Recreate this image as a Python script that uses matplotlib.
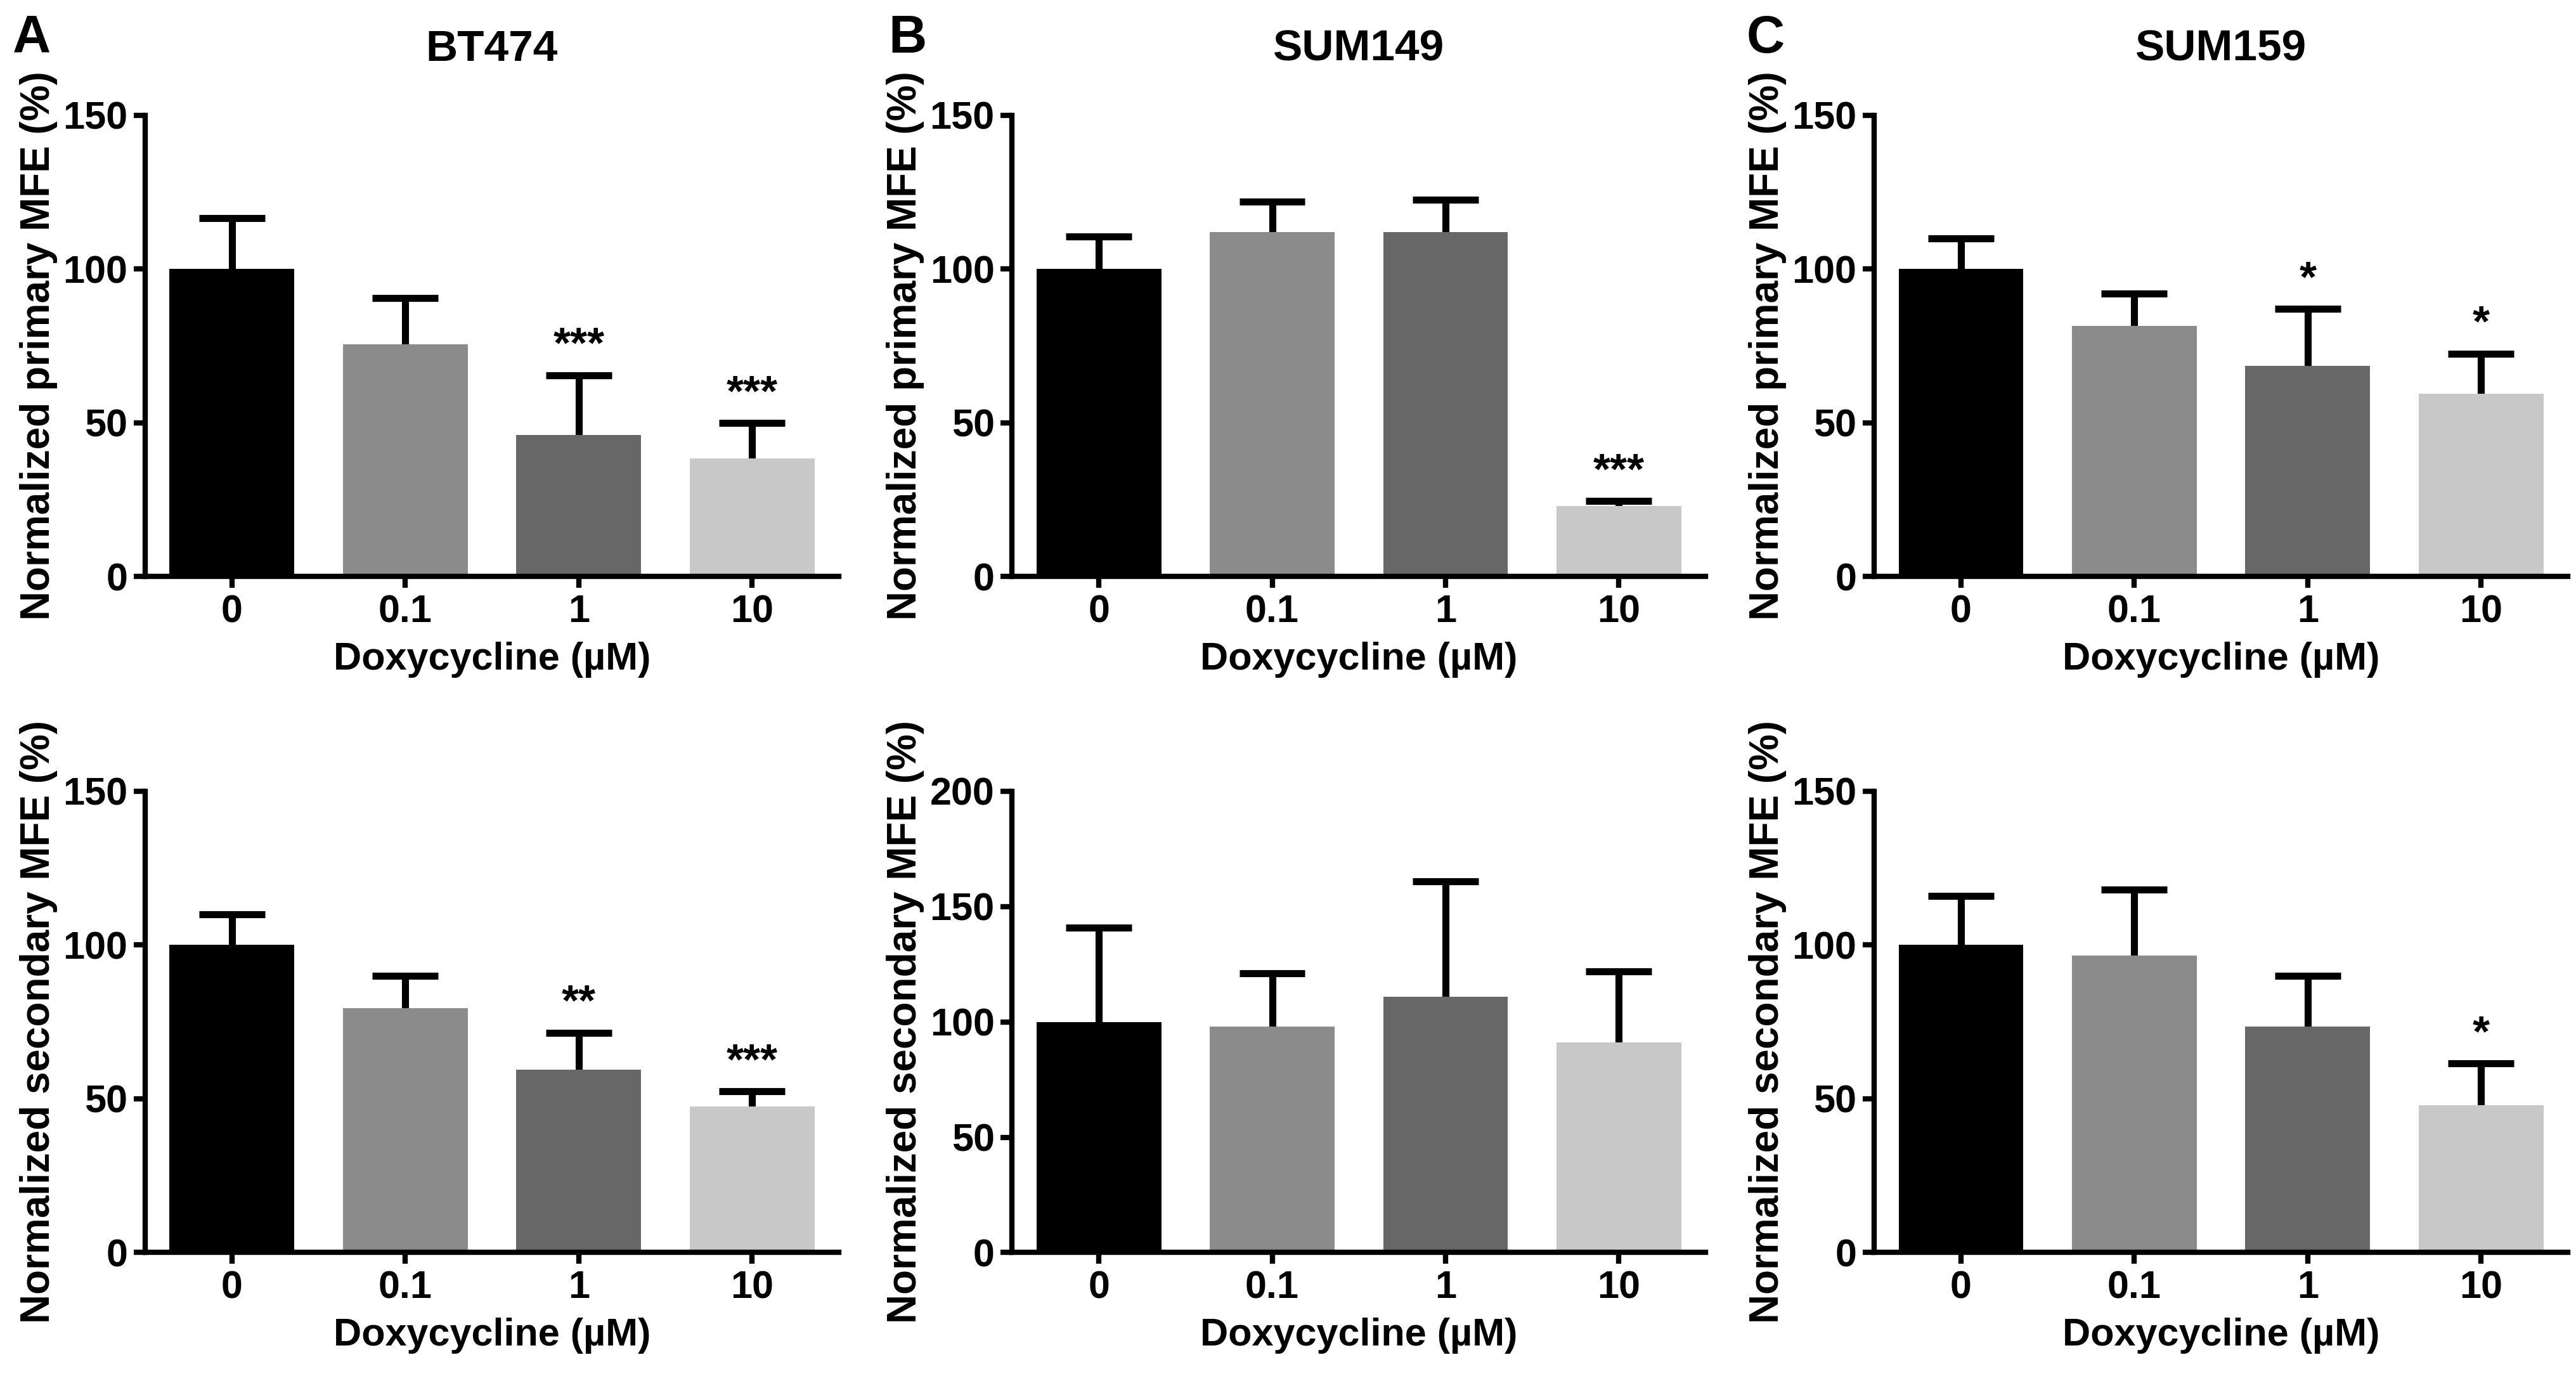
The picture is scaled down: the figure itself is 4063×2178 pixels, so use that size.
import matplotlib
matplotlib.use("Agg")
import matplotlib.pyplot as plt
import numpy as np

plt.rcParams['font.family'] = ['Liberation Sans', 'DejaVu Sans']
plt.rcParams['font.weight'] = 'bold'

doses = ['0', '0.1', '1', '10']
bar_colors = ['#000000', '#8b8b8b', '#676767', '#c8c8c8']
cell_lines = ['BT474', 'SUM149', 'SUM159']
panel_letters = ['A', 'B', 'C']

# primary MFE (top row)
bt474_primary = [100, 75.5, 46, 38.5]
bt474_primary_err = [16.5, 15, 19.5, 11.5]
bt474_primary_sig = ['', '', '***', '***']

sum149_primary = [100, 112, 112, 23]
sum149_primary_err = [10.5, 10, 10.5, 1.5]
sum149_primary_sig = ['', '', '', '***']

sum159_primary = [100, 81.5, 68.5, 59.5]
sum159_primary_err = [10, 10.5, 18.5, 13]
sum159_primary_sig = ['', '', '*', '*']

# secondary MFE (bottom row)
bt474_secondary = [100, 79.5, 59.5, 47.5]
bt474_secondary_err = [10, 10.5, 12, 5]
bt474_secondary_sig = ['', '', '**', '***']

sum149_secondary = [100, 98, 111, 91]
sum149_secondary_err = [41, 23, 50, 31]
sum149_secondary_sig = ['', '', '', '']

sum159_secondary = [100, 96.5, 73.5, 48]
sum159_secondary_err = [16, 21.5, 16.5, 13.5]
sum159_secondary_sig = ['', '', '', '*']

top_rows = [(bt474_primary, bt474_primary_err, bt474_primary_sig, 150),
            (sum149_primary, sum149_primary_err, sum149_primary_sig, 150),
            (sum159_primary, sum159_primary_err, sum159_primary_sig, 150)]
bottom_rows = [(bt474_secondary, bt474_secondary_err, bt474_secondary_sig, 150),
               (sum149_secondary, sum149_secondary_err, sum149_secondary_sig, 200),
               (sum159_secondary, sum159_secondary_err, sum159_secondary_sig, 150)]

fig = plt.figure(figsize=(40.63, 21.78), dpi=100)

lefts = [0.0564, 0.3929, 0.7276]
width = 0.2692
bottoms = [0.5825, 0.093]
height = 0.334


def draw_panel(ax, vals, errs, sig, ymax, ylabel):
    x = np.arange(len(doses))
    vals = np.array(vals, dtype=float)
    tops = vals + np.array(errs, dtype=float)
    ax.bar(x, vals, width=0.72, color=bar_colors, zorder=2)
    # upper-only error bars, no cap on the bar side
    ax.vlines(x, vals, tops, color='black', linewidth=8, zorder=1)
    ax.hlines(tops, x - 0.19, x + 0.19, color='black', linewidth=8, zorder=1)
    for xi, t, s in zip(x, tops, sig):
        if s:
            ax.annotate(s, (xi, t), xytext=(0, 10), textcoords='offset points',
                        ha='center', va='bottom', fontsize=50, fontweight='bold')
    ax.set_xlim(-0.5, 3.5)
    ax.set_ylim(0, ymax)
    ax.set_yticks(np.arange(0, ymax + 1, 50))
    ax.set_xticks(x)
    ax.set_xticklabels(doses)
    for sp in ['top', 'right']:
        ax.spines[sp].set_visible(False)
    for sp in ['left', 'bottom']:
        ax.spines[sp].set_linewidth(6)
    ax.tick_params(axis='both', direction='out', length=13, width=6, pad=7,
                   labelsize=44)
    ax.set_xlabel('Doxycycline (µM)', fontsize=44, fontweight='bold', labelpad=13)
    ax.set_ylabel(ylabel, fontsize=46, fontweight='bold', labelpad=6)


for i in range(3):
    ax = fig.add_axes([lefts[i], bottoms[0], width, height])
    vals, errs, sig, ymax = top_rows[i]
    draw_panel(ax, vals, errs, sig, ymax, 'Normalized primary MFE (%)')
    ax.set_title(cell_lines[i], fontsize=50, fontweight='bold', pad=62)

    ax2 = fig.add_axes([lefts[i], bottoms[1], width, height])
    vals, errs, sig, ymax = bottom_rows[i]
    draw_panel(ax2, vals, errs, sig, ymax, 'Normalized secondary MFE (%)')

letter_x = [0.005, 0.345, 0.678]
for lx, letter in zip(letter_x, panel_letters):
    fig.text(lx, 0.972, letter, fontsize=60, fontweight='bold', va='center', ha='left')

fig.savefig('out.png', dpi=100, facecolor='white')
